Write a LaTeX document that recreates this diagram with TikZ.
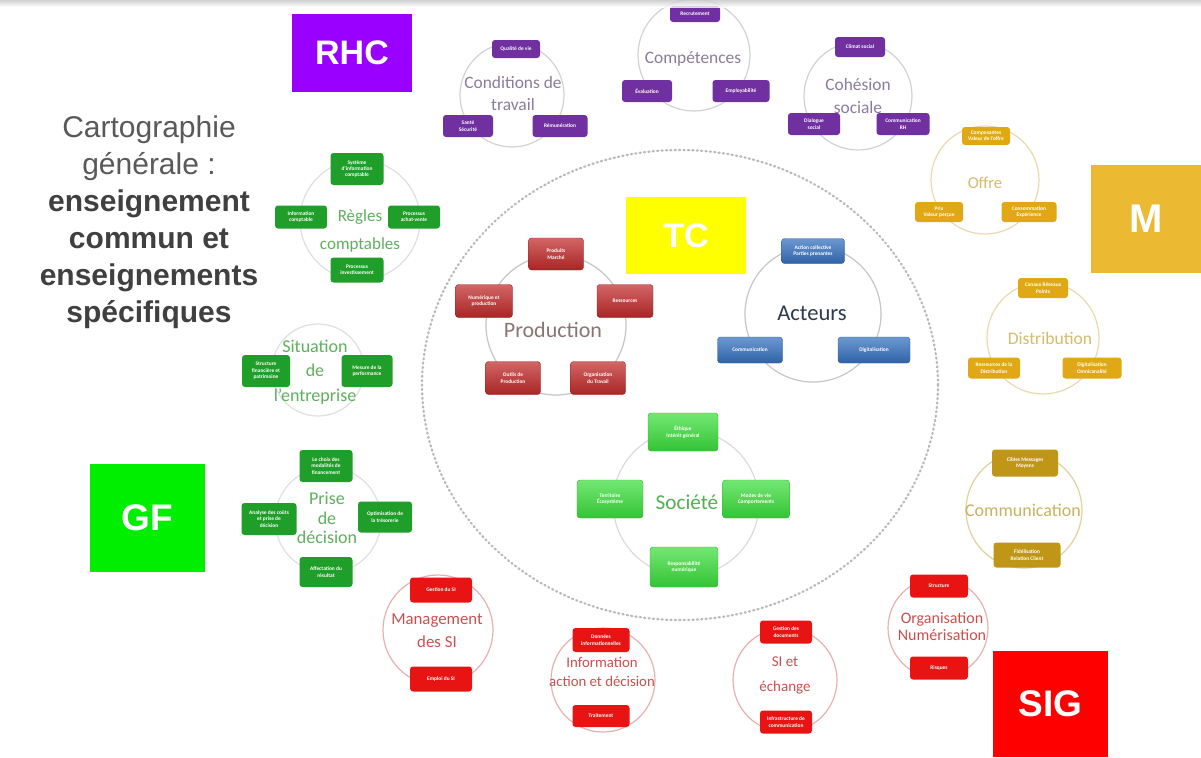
\documentclass[tikz,border=0pt]{standalone}
\usepackage{fontspec}
\setmainfont{Carlito}
\newfontfamily\arialfont{Liberation Sans}
\definecolor{rhcviolet}{RGB}{153,0,255}
\definecolor{rhcbox}{RGB}{112,48,160}
\definecolor{rhctitle}{RGB}{138,124,156}
\definecolor{gfgreen}{RGB}{0,238,0}
\definecolor{gfbox}{RGB}{32,158,42}
\definecolor{gftitle}{RGB}{95,175,95}
\definecolor{tcyellow}{RGB}{255,255,0}
\definecolor{prodred}{RGB}{192,42,42}
\definecolor{prodtitle}{RGB}{140,116,116}
\definecolor{actblue}{RGB}{52,112,190}
\definecolor{acttitle}{RGB}{46,58,78}
\definecolor{socgreen}{RGB}{60,222,60}
\definecolor{soctitle}{RGB}{85,176,85}
\definecolor{mgold}{RGB}{235,185,50}
\definecolor{mbox}{RGB}{224,168,20}
\definecolor{mtitle}{RGB}{214,188,106}
\definecolor{combox}{RGB}{192,150,22}
\definecolor{comtitle}{RGB}{201,179,94}
\definecolor{sigred}{RGB}{255,0,0}
\definecolor{sigbox}{RGB}{232,20,20}
\definecolor{sigtitle}{RGB}{201,80,79}
\definecolor{textgray}{RGB}{89,89,89}
\definecolor{textdark}{RGB}{64,64,64}
\begin{document}
\begin{tikzpicture}[x=0.5pt, y=-0.5pt, line join=round, line cap=round,
	bigtag/.style={text=white, inner sep=0pt, font=\arialfont\bfseries\fontsize{#1}{#1}\selectfont},
	bigtag/.default=17,
	ringline/.style={line width=0.6pt},
	ringtitle/.style={align=center, inner sep=0pt},
	itembox/.style={rounded corners=1.5pt, text=white, align=center, inner sep=0pt, font=\bfseries\fontsize{2.7}{3.2}\selectfont},
	tcbox/.style={itembox, top color=#1!72!white, bottom color=#1!88!black, draw=#1!80!black, line width=0.2pt}]
	\fill[white] (0,0) rectangle (1201,757);
	\useasboundingbox (0,0) rectangle (1201,757);
	% grand cercle du tronc commun
	\draw[gray!55, line width=1.1pt, dash pattern=on 0.6pt off 1.6pt] (680,385) ellipse [x radius=129pt, y radius=117.5pt];
	% titre a gauche
	\node[align=center, text=textgray, font=\arialfont\fontsize{15}{18.5}\selectfont] (titre) at (149,222.5)
		{Cartographie\\générale :\\\textcolor{textdark}{\bfseries enseignement}\\\textcolor{textdark}{\bfseries commun et}\\\textcolor{textdark}{\bfseries enseignements}\\\textcolor{textdark}{\bfseries spécifiques}};
	% etiquettes
	\node[bigtag, fill=rhcviolet, minimum width=60pt, minimum height=39pt] (rhc) at (352,53) {RHC};
	\node[bigtag, fill=tcyellow, minimum width=60pt, minimum height=38.5pt] (tc) at (686,235.5) {TC};
	\node[bigtag=20, fill=mgold, minimum width=55pt, minimum height=54pt] (m) at (1146,219) {M};
	\node[bigtag=18.5, fill=gfgreen, minimum width=57.5pt, minimum height=54pt] (gf) at (147.5,518) {GF};
	\node[bigtag=18.5, fill=sigred, minimum width=57.5pt, minimum height=53pt] (sig) at (1050.5,704) {SIG};

	% RHC : conditions de travail
	\draw[ringline, gray!35] (512,95) circle [radius=26pt];
	\node[ringtitle, text=rhctitle, font=\fontsize{8.7}{11}\selectfont] (condit) at (513,94) {Conditions de\\travail};
	\node[itembox, fill=rhcbox, minimum width=24pt, minimum height=9pt] (qualite) at (516,49) {Qualité de vie};
	\node[itembox, fill=rhcbox, minimum width=25pt, minimum height=11pt] (sante) at (468,126) {Santé\\Sécurité};
	\node[itembox, fill=rhcbox, minimum width=27.5pt, minimum height=11pt] (remun) at (560,126) {Rémunération};
	% RHC : competences
	\draw[ringline, gray!35] (694,55) circle [radius=28pt];
	\node[ringtitle, text=rhctitle, font=\fontsize{8.7}{11}\selectfont] (compet) at (693,59) {Compétences};
	\node[itembox, fill=rhcbox, minimum width=25pt, minimum height=8pt] (recrut) at (695,14) {Recrutement};
	\node[itembox, fill=rhcbox, minimum width=25pt, minimum height=11pt] (evalu) at (647,91) {Évaluation};
	\node[itembox, fill=rhcbox, minimum width=28.5pt, minimum height=11pt] (employ) at (741,91) {Employabilité};
	% RHC : cohesion sociale
	\draw[ringline, gray!35] (858,96) circle [radius=27pt];
	\node[ringtitle, text=rhctitle, font=\fontsize{8.7}{11.5}\selectfont] (cohes) at (858,96) {Cohésion\\sociale};
	\node[itembox, fill=rhcbox, minimum width=25pt, minimum height=10pt] (climat) at (860,47) {Climat social};
	\node[itembox, fill=rhcbox, minimum width=26pt, minimum height=11pt] (dialog) at (814,124) {Dialogue\\social};
	\node[itembox, fill=rhcbox, minimum width=26.5pt, minimum height=11pt] (commrh) at (903,124) {Communication\\RH};

	% GF : regles comptables
	\draw[ringline, gray!25] (360,220) circle [radius=30pt];
	\node[ringtitle, text=gftitle, font=\fontsize{8.5}{14}\selectfont] (regles) at (360,231) {Règles\\comptables};
	\node[itembox, fill=gfbox, minimum width=26.5pt, minimum height=16pt] (sic) at (357,169) {Système\\d'information\\comptable};
	\node[itembox, fill=gfbox, minimum width=26pt, minimum height=11.5pt] (infoc) at (301,217) {Information\\comptable};
	\node[itembox, fill=gfbox, minimum width=26pt, minimum height=11.5pt] (achat) at (414,217) {Processus\\achat-vente};
	\node[itembox, fill=gfbox, minimum width=26.5pt, minimum height=12.5pt] (invest) at (357,270) {Processus\\investissement};
	% GF : situation de l'entreprise
	\draw[ringline, gray!25] (318,370) circle [radius=23pt];
	\node[ringtitle, text=gftitle, font=\fontsize{9}{12.3}\selectfont] (situ) at (315,372) {Situation\\de\\l'entreprise};
	\node[itembox, fill=gfbox, minimum width=24pt, minimum height=16pt] (struct) at (266,371) {Structure\\financière et\\patrimoine};
	\node[itembox, fill=gfbox, minimum width=25.5pt, minimum height=16pt] (mesure) at (367,371) {Mesure de la\\performance};
	% GF : prise de decision
	\draw[ringline, gray!25] (328,520) circle [radius=26.5pt];
	\node[ringtitle, text=gftitle, font=\fontsize{9}{9.8}\selectfont] (prise) at (327,518) {Prise\\de\\décision};
	\node[itembox, fill=gfbox, minimum width=26.5pt, minimum height=16pt] (choix) at (326,466) {Le choix des\\modalités de\\financement};
	\node[itembox, fill=gfbox, minimum width=27.5pt, minimum height=16pt] (couts) at (269,519) {Analyse des coûts\\et prise de\\décision};
	\node[itembox, fill=gfbox, minimum width=27pt, minimum height=15.5pt] (treso) at (385,517) {Optimisation de\\la trésorerie};
	\node[itembox, fill=gfbox, minimum width=26.5pt, minimum height=15pt] (affect) at (326,572) {Affectation du\\résultat};

	% TC : production
	\draw[ringline, gray!45] (556,325) circle [radius=35pt];
	\node[ringtitle, text=prodtitle, font=\fontsize{11}{13}\selectfont] (prod) at (553,330) {Production};
	\node[tcbox=prodred, minimum width=27.5pt, minimum height=16pt] (marche) at (556,254) {Produits\\Marché};
	\node[tcbox=prodred, minimum width=28pt, minimum height=16.5pt] (ressour) at (625,301) {Ressources};
	\node[tcbox=prodred, minimum width=28.5pt, minimum height=16.5pt] (numprod) at (484,301) {Numérique et\\production};
	\node[tcbox=prodred, minimum width=27.5pt, minimum height=16.5pt] (outils) at (513,378) {Outils de\\Production};
	\node[tcbox=prodred, minimum width=27.5pt, minimum height=16.5pt] (orgatrav) at (598,378) {Organisation\\du Travail};
	% TC : acteurs
	\draw[ringline, gray!45] (813,314) circle [radius=34pt];
	\node[ringtitle, text=acttitle, font=\fontsize{11.3}{13}\selectfont] (acteurs) at (812,313) {Acteurs};
	\node[tcbox=actblue, minimum width=31.5pt, minimum height=12.5pt] (action) at (813,251) {Action collective\\Parties prenantes};
	\node[tcbox=actblue, minimum width=32.5pt, minimum height=13pt] (commact) at (750,350) {Communication};
	\node[tcbox=actblue, minimum width=36pt, minimum height=13pt] (digit) at (874,350) {Digitalisation};
	% TC : societe
	\draw[ringline, gray!28] (686,503) circle [radius=36.5pt];
	\node[ringtitle, text=soctitle, font=\fontsize{10.6}{13}\selectfont] (societe) at (687,502) {Société};
	\node[tcbox=socgreen, minimum width=35pt, minimum height=19pt] (ethique) at (683,432) {Éthique\\Intérêt général};
	\node[tcbox=socgreen, minimum width=33pt, minimum height=19pt] (territ) at (610,499) {Territoire\\Écosystème};
	\node[tcbox=socgreen, minimum width=33.5pt, minimum height=19pt] (modes) at (756,499) {Modes de vie\\Comportements};
	\node[tcbox=socgreen, minimum width=34pt, minimum height=20pt] (respons) at (684,567) {Responsabilité\\numérique};

	% M : offre
	\draw[ringline, mtitle!55] (985,180) circle [radius=27pt];
	\node[ringtitle, text=mtitle, font=\fontsize{8.3}{10}\selectfont] (offre) at (985,183) {Offre};
	\node[itembox, fill=mbox, minimum width=24pt, minimum height=9pt] (compo) at (986,136) {Composantes\\Valeur de l'offre};
	\node[itembox, fill=mbox, minimum width=24pt, minimum height=10pt] (prix) at (939,212) {Prix\\Valeur perçue};
	\node[itembox, fill=mbox, minimum width=27.5pt, minimum height=10pt] (conso) at (1029,212) {Consommation\\Expérience};
	% M : distribution
	\draw[ringline, mtitle!55] (1043,338) circle [radius=28pt];
	\node[ringtitle, text=mtitle, font=\fontsize{8.8}{10}\selectfont] (distrib) at (1050,338) {Distribution};
	\node[itembox, fill=mbox, minimum width=25pt, minimum height=10pt] (canaux) at (1043,288) {Canaux Réseaux\\Points};
	\node[itembox, fill=mbox, minimum width=26pt, minimum height=10.5pt] (resdist) at (994,368) {Ressources de la\\Distribution};
	\node[itembox, fill=mbox, minimum width=29.5pt, minimum height=10.5pt] (omni) at (1092,368) {Digitalisation\\Omnicanalité};
	% M : communication
	\draw[ringline, comtitle!60] (1024,510) circle [radius=29pt];
	\node[ringtitle, text=comtitle, font=\fontsize{9}{10}\selectfont] (commun) at (1023,510) {Communication};
	\node[itembox, fill=combox, minimum width=33pt, minimum height=13.5pt] (cibles) at (1025,463) {Cibles Messages\\Moyens};
	\node[itembox, fill=combox, minimum width=33.5pt, minimum height=12.5pt] (fidel) at (1027,555) {Fidélisation\\Relation Client};

	% SIG : organisation numerisation
	\draw[ringline, sigtitle!45] (938,628) circle [radius=25pt];
	\node[ringtitle, text=sigtitle, font=\fontsize{8}{8.5}\selectfont] (orgnum) at (942,627) {Organisation\\Numérisation};
	\node[itembox, fill=sigbox, minimum width=29pt, minimum height=11.5pt] (structsi) at (939,586) {Structure};
	\node[itembox, fill=sigbox, minimum width=29pt, minimum height=11.5pt] (risques) at (939,668) {Risques};
	% SIG : management des SI
	\draw[ringline, sigtitle!45] (438,630) circle [radius=27.5pt];
	\node[ringtitle, text=sigtitle, font=\fontsize{8.4}{11.5}\selectfont] (mansi) at (437,631) {Management\\des SI};
	\node[itembox, fill=sigbox, minimum width=31pt, minimum height=12.5pt] (gestsi) at (441,590) {Gestion du SI};
	\node[itembox, fill=sigbox, minimum width=31pt, minimum height=12.5pt] (emploisi) at (441,679) {Emploi du SI};
	% SIG : information action et decision
	\draw[ringline, sigtitle!45] (603,680) circle [radius=26pt];
	\node[ringtitle, text=sigtitle, font=\fontsize{7.4}{9.5}\selectfont] (infoact) at (602,672) {Information\\action et décision};
	\node[itembox, fill=sigbox, minimum width=28.5pt, minimum height=12pt] (donnees) at (601,640) {Données\\informationnelles};
	\node[itembox, fill=sigbox, minimum width=28.5pt, minimum height=11pt] (traite) at (601,716) {Traitement};
	% SIG : SI et echange
	\draw[ringline, sigtitle!45] (785,680) circle [radius=26pt];
	\node[ringtitle, text=sigtitle, font=\fontsize{7.5}{12.5}\selectfont] (siech) at (785,675) {SI et\\échange};
	\node[itembox, fill=sigbox, minimum width=26pt, minimum height=11.5pt] (gestdoc) at (786,632) {Gestion des\\documents};
	\node[itembox, fill=sigbox, minimum width=26pt, minimum height=11.5pt] (infra) at (786,722) {Infrastructure de\\communication};

	% ombre du haut
	\shade[top color=gray!45, bottom color=white, opacity=0.8] (0,0) rectangle (1201,7);
\end{tikzpicture}
\end{document}
